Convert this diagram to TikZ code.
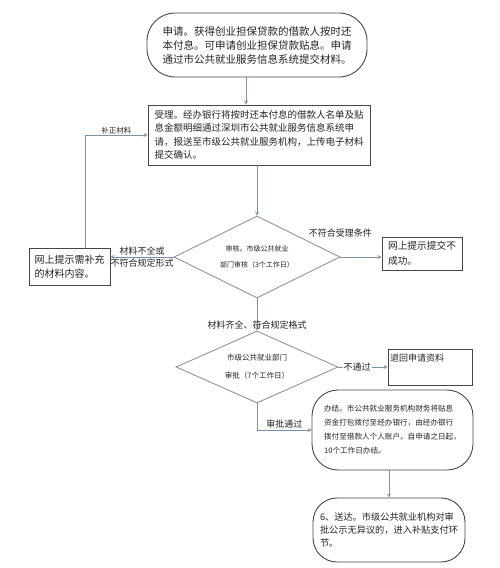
\documentclass[tikz,border=0pt]{standalone}
\usepackage{fontspec}
\setmainfont{Noto Sans CJK SC}
\usetikzlibrary{calc,positioning,arrows,shapes}

\definecolor{linec}{RGB}{125,145,165}
\definecolor{diac}{RGB}{140,150,160}
\definecolor{boxc}{RGB}{70,70,70}
\definecolor{txtc}{RGB}{35,35,35}

\begin{document}
\begin{tikzpicture}[x=1pt,y=-1pt,>=stealth,
  box/.style={draw=boxc,line width=.9pt,align=left,text=txtc,inner sep=2pt},
  rbox/.style={box,rounded corners=#1},
  dia/.style={draw=diac,line width=.9pt,diamond,shape aspect=2,align=center,text=txtc,inner sep=0pt},
  arr/.style={->,draw=linec,line width=.8pt},
  lab/.style={text=txtc,font=\fontsize{9}{11}\selectfont,inner sep=1pt}]
  \useasboundingbox (0,0) rectangle (500,568);

  \node[rbox=28pt,minimum width=220pt,minimum height=64pt,font=\fontsize{10.5}{14}\selectfont] (shenqing) at (257,45) {申请。获得创业担保贷款的借款人按时还\\本付息。可申请创业担保贷款贴息。申请\\通过市公共就业服务信息系统提交材料。};
  \node[box,minimum width=222pt,minimum height=60pt,font=\fontsize{9.5}{13.5}\selectfont] (shouli) at (259,135) {受理。经办银行将按时还本付息的借款人名单及贴\\息金额明细通过深圳市公共就业服务信息系统申\\请，报送至市级公共就业服务机构，上传电子材料\\提交确认。};
  \node[dia,minimum width=166pt,minimum height=82pt,font=\fontsize{7}{16}\selectfont] (shenhe) at (257,257) {审核。市级公共就业\\部门审核（3个工作日）};
  \node[dia,minimum width=162pt,minimum height=72pt,font=\fontsize{7.5}{18}\selectfont] (shenpi) at (257,367) {市级公共就业部门\\审批（7个工作日）};

  \node[box,minimum width=81pt,minimum height=37pt,font=\fontsize{10}{14}\selectfont] (buchong) at (69.5,266.5) {网上提示需补充\\的材料内容。};
  \node[box,minimum width=80pt,minimum height=33pt,font=\fontsize{9.7}{15}\selectfont] (shibai) at (422,253.5) {网上提示提交不\\成功。};
  \node[box,text width=80pt,minimum height=36pt,font=\fontsize{9}{14}\selectfont] (tuihui) at (430,367) {退回申请资料\\ \strut};
  \node[rbox=26pt,minimum width=161pt,minimum height=80pt,font=\fontsize{7.6}{14}\selectfont] (banjie) at (392.5,430) {办结。市公共就业服务机构财务将贴息\\资金打包拨付至经办银行，由经办银行\\拨付至借款人个人账户。自申请之日起，\\10个工作日办结。};
  \node[rbox=24pt,minimum width=152pt,minimum height=64pt,font=\fontsize{9.2}{13}\selectfont] (songda) at (389,530) {6、送达。市级公共就业机构对审\\批公示无异议的，进入补贴支付环\\节。};

  \draw[arr] ([xshift=-11pt]shenqing.south) -- ([xshift=-11pt]shenqing.south |- shouli.north);
  \draw[arr] (shouli.south -| shenhe.north) -- (shenhe.north);
  \draw[arr] (shenhe.west) -- node[lab,above]{材料不全或} node[lab,below]{不符合规定形式} (shenhe.west -| buchong.east);
  \draw[arr] ([xshift=15.5pt]buchong.north) |- node[lab,pos=.75,above,font=\fontsize{7.5}{9}\selectfont]{补正材料} (shouli.west);
  \draw[arr] (shenhe.east) -- node[lab,pos=0,above=18pt]{不符合受理条件} (shenhe.east -| shibai.west);
  \draw[arr] (shenhe.south) -- node[lab,pos=.83]{材料齐全、符合规定格式} (shenpi.north);
  \draw[arr] (shenpi.east) -- node[lab,pos=.38,fill=white]{不通过} (shenpi.east -| tuihui.west);
  \draw[arr] (shenpi.south) |- node[lab,pos=.75,above]{审批通过} (banjie.west);
  \draw[arr] (songda.north |- banjie.south) -- (songda.north);
\end{tikzpicture}
\end{document}
